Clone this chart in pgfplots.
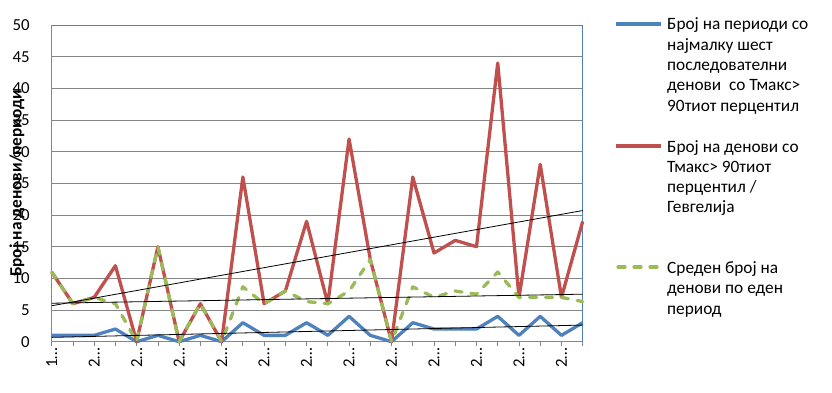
\documentclass[border=0pt]{standalone}
\usepackage{pgfplots}
\pgfplotsset{compat=1.18}
\usepackage{pgfplotstable}
\usepackage{fontspec}
\setmainfont{Carlito}
\definecolor{sblue}{HTML}{4F81BD}
\definecolor{sred}{HTML}{C0504D}
\definecolor{sgreen}{HTML}{9BBB59}
\definecolor{gridgray}{HTML}{868686}

\pgfplotstableread{
x b r g
0 1 11 11
1 1 6 6
2 1 7 7
3 2 12 6
4 0 0 0
5 1 15 15
6 0 0 0
7 1 6 6
8 0 0 0
9 3 26 8.667
10 1 6 6
11 1 8 8
12 3 19 6.333
13 1 6 6
14 4 32 8
15 1 13 13
16 0 0 0
17 3 26 8.667
18 2 14 7
19 2 16 8
20 2 15 7.5
21 4 44 11
22 1 7 7
23 4 28 7
24 1 7 7
25 3 19 6.333
}\data

\begin{document}
\begin{tikzpicture}[font=\fontsize{17.3}{20.3}\selectfont]
\useasboundingbox (0,0) rectangle (832pt,-393pt);
\begin{axis}[
  at={(51.7pt,-341.7pt)}, anchor=south west,
  scale only axis, width=531pt, height=316.7pt,
  xmin=0, xmax=25, ymin=0, ymax=50,
  clip=false,
  axis x line*=bottom, axis y line*=left,
  axis line style={draw=gridgray, line width=0.8pt},
  xtick={0,...,25},
  xticklabels={1…,,2…,,2…,,2…,,2…,,2…,,2…,,2…,,2…,,2…,,2…,,2…,,2…,},
  x tick label style={rotate=90, anchor=east, inner sep=1pt},
  xtick style={draw=gridgray, line width=0.8pt},
  tick align=outside, major tick length=4.5pt,
  ytick={0,5,...,50},
  ytick style={draw=none},
  y tick label style={anchor=east, inner sep=0pt, xshift=-17.4pt},
  ymajorgrids, major grid style={draw=gridgray, line width=0.8pt},
  /pgf/number format/assume math mode=true,
  tick label style={font=\fontsize{16.8}{20}\selectfont},
  every axis plot/.append style={mark=none},
]
\draw[sblue, line width=0.9pt] (rel axis cs:0,1) -- (rel axis cs:1,1) -- (rel axis cs:1,0);
\addplot[sblue, line width=3.3pt, line join=round] table[x=x,y=b]{\data};
\addplot[sred, line width=3.3pt, line join=round] table[x=x,y=r]{\data};
\addplot[sgreen, line width=3.3pt, line join=round, line cap=round, dash pattern=on 7pt off 9pt] table[x=x,y=g]{\data};
\addplot[black, line width=0.8pt] table[x=x, y={create col/linear regression={y=b}}]{\data};
\addplot[black, line width=0.8pt] table[x=x, y={create col/linear regression={y=r}}]{\data};
\addplot[black, line width=0.8pt] table[x=x, y={create col/linear regression={y=g}}]{\data};
\end{axis}
\node[rotate=90, font=\bfseries\fontsize{17.3}{20}\selectfont] at (17pt,-183.3pt) {Број на денови/периоди};
% legend
\draw[sblue, line width=3.3pt] (616pt,-24pt) -- (661pt,-24pt);
\node[anchor=base west, inner sep=0pt] at (667pt,-30pt) {Број на периоди со};
\node[anchor=base west, inner sep=0pt] at (667pt,-50.3pt) {најмалку шест};
\node[anchor=base west, inner sep=0pt] at (667pt,-70.6pt) {последователни};
\node[anchor=base west, inner sep=0pt] at (667pt,-90.9pt) {денови\ \ со Тмакс>};
\node[anchor=base west, inner sep=0pt] at (667pt,-111.2pt) {90тиот перцентил};
\draw[sred, line width=3.3pt] (616pt,-146pt) -- (661pt,-146pt);
\node[anchor=base west, inner sep=0pt] at (667pt,-152pt) {Број на денови со};
\node[anchor=base west, inner sep=0pt] at (667pt,-172.3pt) {Тмакс> 90тиот};
\node[anchor=base west, inner sep=0pt] at (667pt,-192.6pt) {перцентил /};
\node[anchor=base west, inner sep=0pt] at (667pt,-212.9pt) {Гевгелија};
\draw[sgreen, line width=3.3pt, line cap=round, dash pattern=on 7pt off 9pt] (618pt,-267pt) -- (659pt,-267pt);
\node[anchor=base west, inner sep=0pt] at (667pt,-273.5pt) {Среден број на};
\node[anchor=base west, inner sep=0pt] at (667pt,-293.8pt) {денови по еден};
\node[anchor=base west, inner sep=0pt] at (667pt,-314.1pt) {период};
\end{tikzpicture}
\end{document}
